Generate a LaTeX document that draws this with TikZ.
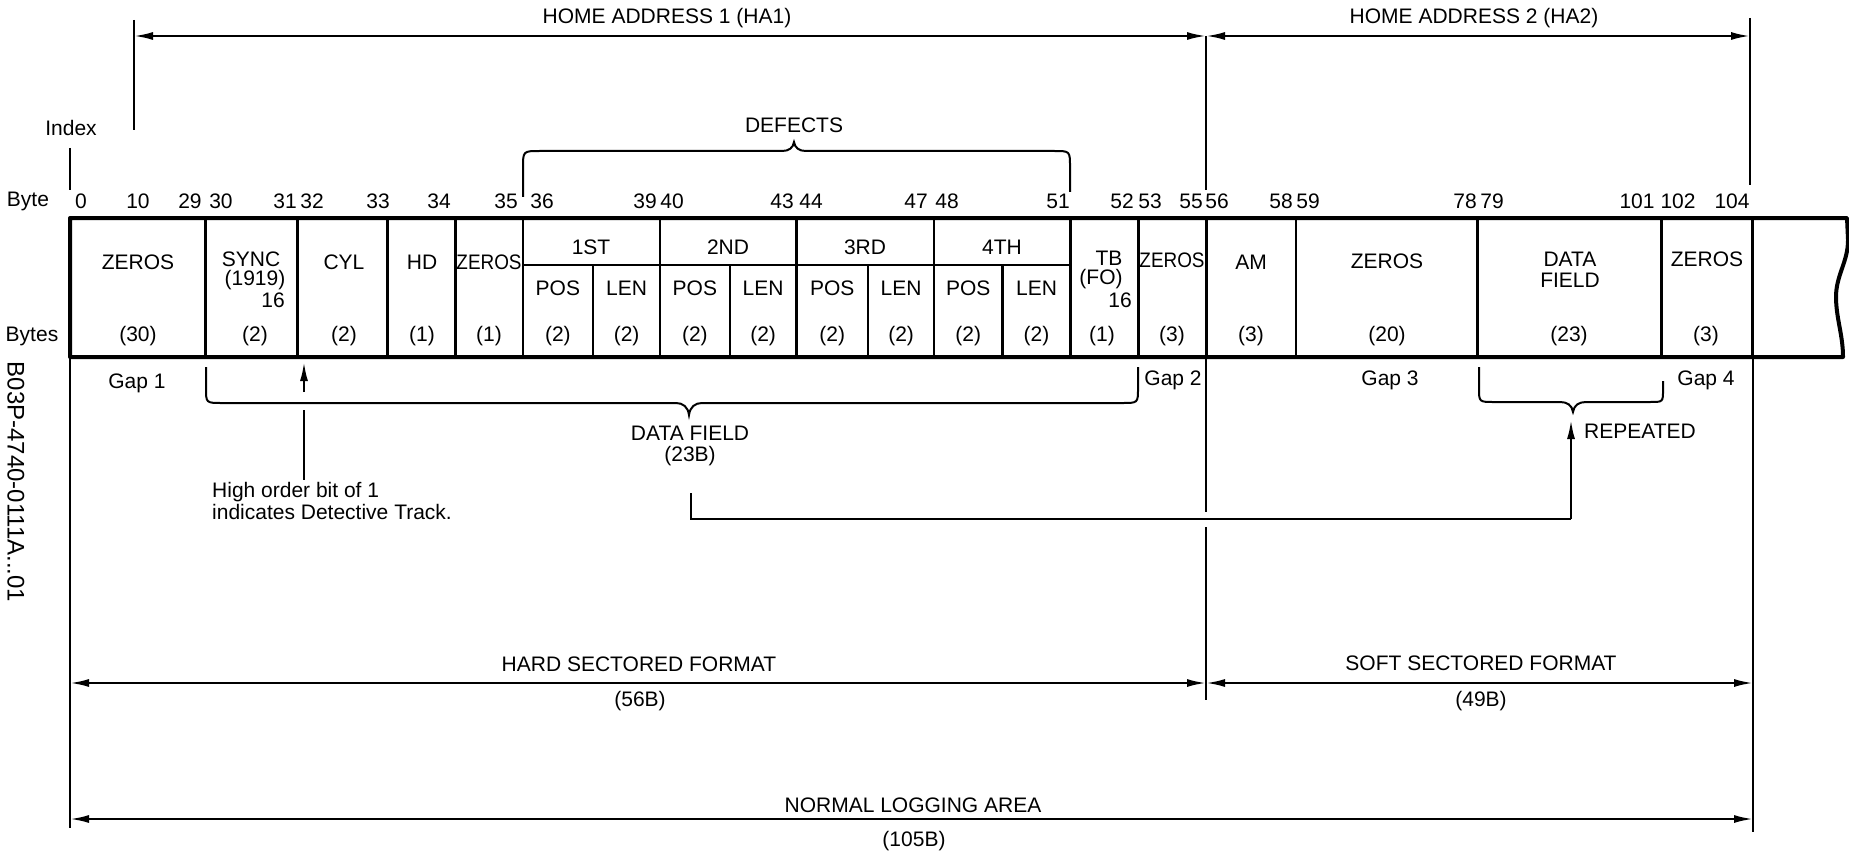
\documentclass[tikz,border=0pt]{standalone}
\usepackage{fontspec}
\setmainfont{Liberation Sans}
\usetikzlibrary{arrows.meta}
\begin{document}
\begin{tikzpicture}[x=1pt,y=-1pt,
  every node/.style={inner sep=0pt, font=\fontsize{21}{24}\selectfont},
  thinln/.style={line width=2pt},
  divln/.style={line width=2.4pt},
  boxln/.style={line width=4pt, line join=round},
  tipA/.tip={Latex[length=19pt,width=8pt]},
  dimarrow/.style={line width=2.2pt, tipA-tipA},
  uparrow/.style={line width=2.2pt, -tipA},
  idtext/.style={rotate=-90, font=\fontsize{24}{26}\selectfont}
]
\useasboundingbox (0,0) rectangle (1849,853);

% ---------- main record box ----------
\draw[boxln] (900,357) -- (70,357) -- (70,218) -- (1847,218) -- (1848,240)
  .. controls (1848,262) and (1836,275) .. (1836,297)
  .. controls (1836,318) and (1843,335) .. (1843,357) -- cycle;

% full-height dividers
\foreach \x in {205.6,297.3,387.5,455.5,522.7,660.1,796.5,934.1,1070.5,1138.5,1206.5,1296,1477.3,1661.5,1752.6}
  \draw[divln] (\x,218) -- (\x,357);
% defect sub-dividers
\foreach \x in {593.1,729.7,868.1,1002.5}
  \draw[divln] (\x,265) -- (\x,357);
\draw[divln] (522.7,265) -- (1070.5,265);

% ---------- cell texts ----------
\node (z1) at (138,262) {ZEROS};
\node (z1n) at (138,336) {(30)};
\node (sync) at (251,259) {SYNC};
\node (synca) at (255,280) {(1919)};
\node (syncb) at (273,300) {16};
\node (syncn) at (255,336) {(2)};
\node (cyl) at (344,262) {CYL};
\node (cyln) at (344,336) {(2)};
\node (hd) at (422,262) {HD};
\node (hdn) at (422,336) {(1)};
\node (z2) at (489,262) {\scalebox{0.9}[1]{ZEROS}};
\node (z2n) at (489,336) {(1)};
\node (d1) at (591,247) {1ST};
\node (d2) at (728,247) {2ND};
\node (d3) at (865,247) {3RD};
\node (d4) at (1002,247) {4TH};
\foreach \c/\x in {a/557.9,b/626.6,c/694.9,d/763.1,e/832.3,f/901.1,g/968.3,h/1036.5}
  \node (dn\c) at (\x,336) {(2)};
\node (p1) at (557.9,288) {POS};
\node (l1) at (626.6,288) {LEN};
\node (p2) at (694.9,288) {POS};
\node (l2) at (763.1,288) {LEN};
\node (p3) at (832.3,288) {POS};
\node (l3) at (901.1,288) {LEN};
\node (p4) at (968.3,288) {POS};
\node (l4) at (1036.5,288) {LEN};
\node (tb) at (1109,258) {TB};
\node (tba) at (1101,279) {(FO)};
\node (tbb) at (1120,300) {16};
\node (tbn) at (1102,336) {(1)};
\node (z3) at (1172,260) {\scalebox{0.9}[1]{ZEROS}};
\node (z3n) at (1172,336) {(3)};
\node (am) at (1251,262) {AM};
\node (amn) at (1251,336) {(3)};
\node (z4) at (1387,261) {ZEROS};
\node (z4n) at (1387,336) {(20)};
\node (df) at (1570,259) {DATA};
\node (dfb) at (1570,280) {FIELD};
\node (dfn) at (1569,336) {(23)};
\node (z5) at (1707,259) {ZEROS};
\node (z5n) at (1706,336) {(3)};

% ---------- row labels ----------
\node (bytelbl) at (28,201) {Byte};
\node (byteslbl) at (32,336) {Bytes};
\node (index) at (71,128) {Index};
\foreach \t/\x in {0/81,10/138,29/190,30/221,31/285,32/312,33/378,34/439,35/506,36/542,
  39/645,40/672,43/782,44/811,47/916,48/947,51/1058,52/1122,53/1150,55/1191,56/1217,
  58/1281,59/1308,78/1465,79/1492,101/1637,102/1678,104/1732}
  \node (n\t) at (\x,201) {\t};

% ---------- top dimension lines ----------
\coordinate (ixtop) at (70,148);
\coordinate (ixbot) at (70,190);
\draw[thinln] (ixtop) -- (ixbot);
\coordinate (tenT) at (134,20);
\coordinate (tenB) at (134,130);
\draw[thinln] (tenT) -- (tenB);
\coordinate (midT) at (1206,36);
\coordinate (midB) at (1206,190);
\draw[thinln] (midT) -- (midB);
\coordinate (endT) at (1750,18);
\coordinate (endB) at (1750,185);
\draw[thinln] (endT) -- (endB);
\coordinate (ha1l) at (134,36);
\coordinate (ha1r) at (1206,36);
\coordinate (ha2r) at (1750,36);
\draw[dimarrow] (ha1l) -- (ha1r);
\draw[dimarrow] (ha1r) -- (ha2r);
\node (ha1) at (667,18) {HOME ADDRESS 1 (HA1)};
\node (ha2) at (1474,18) {HOME ADDRESS 2 (HA2)};

% DEFECTS brace
\draw[thinln] (523,197) -- (523,168) .. controls (523,151) and (523,151) .. (540,151)
  -- (782,151) .. controls (789,151) and (793,148) .. (794,142)
  .. controls (795,148) and (799,151) .. (806,151)
  -- (1054,151) .. controls (1070,151) and (1070,151) .. (1070,167) -- (1070,192);
\node (defects) at (794,125) {DEFECTS};

% ---------- below the box ----------
\coordinate (lftT) at (70,357);
\coordinate (lftB) at (70,828);
\draw[thinln] (lftT) -- (lftB);
\coordinate (rgtT) at (1753,357);
\coordinate (rgtB) at (1753,832);
\draw[thinln] (rgtT) -- (rgtB);
\coordinate (gapT) at (1206,357);
\coordinate (gapM1) at (1206,512);
\coordinate (gapM2) at (1206,527);
\coordinate (gapB) at (1206,700);
\draw[thinln] (gapT) -- (gapM1);
\draw[thinln] (gapM2) -- (gapB);

\node (gap1) at (137,383) {Gap 1};
\node (gap2) at (1173,380) {Gap 2};
\node (gap3) at (1390,380) {Gap 3};
\node (gap4) at (1706,380) {Gap 4};

% DATA FIELD brace
\draw[thinln] (206,367) -- (206,388) .. controls (206,403) and (206,403) .. (222,403)
  -- (676,403) .. controls (683,403) and (688,407) .. (689,415)
  .. controls (690,407) and (695,403) .. (702,403)
  -- (1122,403) .. controls (1138,403) and (1138,403) .. (1138,388) -- (1138,367);
\node (dfl) at (690,433) {DATA FIELD};
\node (dfl2) at (690,456) {(23B)};

% REPEATED brace
\draw[thinln] (1479,367) -- (1479,388) .. controls (1479,402) and (1479,402) .. (1494,402)
  -- (1560,402) .. controls (1567,402) and (1572,405) .. (1573,412)
  .. controls (1574,405) and (1579,402) .. (1586,402)
  -- (1650,402) .. controls (1663,402) and (1663,402) .. (1663,390) -- (1663,381);
\node (rep) at (1640,431) {REPEATED};

% link from DATA FIELD to REPEATED
\coordinate (rp1) at (691,493);
\coordinate (rp3) at (1571,519);
\coordinate (rptip) at (1571,420);
\draw[thinln] (rp1) |- (rp3);
\draw[uparrow] (rp3) -- (rptip);

% high-order-bit arrow
\coordinate (hoA) at (304,392);
\coordinate (hoTip) at (304,362);
\coordinate (hoB) at (304,410);
\coordinate (hoC) at (304,480);
\draw[uparrow] (hoA) -- (hoTip);
\draw[thinln] (hoB) -- (hoC);
\node[anchor=west] (ho1) at (212,492) {High order bit of 1};
\node[anchor=west] (ho2) at (212,512) {indicates Detective Track.};

% ---------- bottom dimension lines ----------
\coordinate (hsl) at (70,683);
\coordinate (hsr) at (1206,683);
\coordinate (ssr) at (1753,683);
\draw[dimarrow] (hsl) -- (hsr);
\draw[dimarrow] (hsr) -- (ssr);
\node (hard) at (639,664) {HARD SECTORED FORMAT};
\node (hardb) at (640,701) {(56B)};
\node (soft) at (1481,663) {SOFT SECTORED FORMAT};
\node (softb) at (1481,701) {(49B)};
\coordinate (nll) at (70,819);
\coordinate (nlr) at (1753,819);
\draw[dimarrow] (nll) -- (nlr);
\node (nla) at (913,805) {NORMAL LOGGING AREA};
\node (nlb) at (914,841) {(105B)};

% drawing id
\node[idtext] (docid) at (16,482) {B03P-4740-0111A...01};
\end{tikzpicture}
\end{document}
